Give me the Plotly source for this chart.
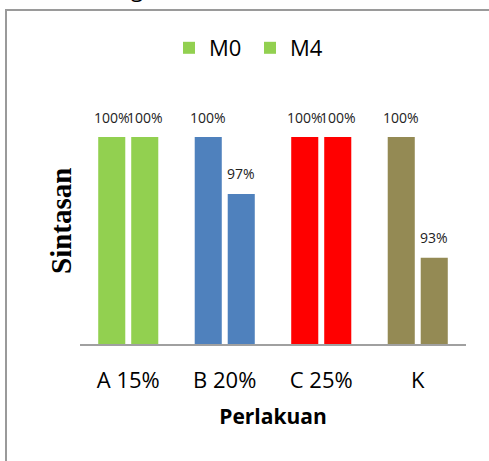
import plotly.graph_objects as go

categories = ["A 15%", "B 20%", "C 25%", "K"]
m0_values = [100, 100, 100, 100]
m4_values = [100, 96.7, 100, 93.0]
series_names = ["M0", "M4"]
bar_colors = ["#92D050", "#4F81BD", "#FF0000", "#948A54"]

W, H = 489, 461
L, R, T, B = 80, 466, 100, 344  # plot area pixels

fig = go.Figure()
for name, vals in zip(series_names, [m0_values, m4_values]):
    fig.add_trace(go.Bar(
        x=categories, y=vals, name=name,
        marker=dict(color=bar_colors, line=dict(width=0)),
        hoverinfo="skip",
    ))

annotations = []
for i, vals in enumerate([m0_values, m4_values]):
    shift = -16.5 if i == 0 else 16.5
    for c, v in zip(categories, vals):
        annotations.append(dict(
            x=c, y=v, xref="x", yref="y", text=f"{v:.0f}%",
            showarrow=False, xshift=shift, yshift=20, yanchor="middle",
            font=dict(family="Open Sans", size=14, color="#222"),
        ))

pw, ph = R - L, B - T
def px(x): return (x - L) / pw
def py(y): return (B - y) / ph

annotations.append(dict(
    x=px(61), y=py(221), xref="paper", yref="paper", text="<b>Sintasan</b>",
    textangle=-90, showarrow=False, xanchor="center", yanchor="middle",
    font=dict(family="Liberation Serif", size=29, color="#000"),
))
annotations.append(dict(
    x=px(137), y=py(-12), xref="paper", yref="paper", text="g",
    showarrow=False, xanchor="center", yanchor="middle",
    font=dict(family="Open Sans", size=22, color="#000"),
))

shapes = [
    dict(type="line", xref="paper", yref="paper", x0=px(6), x1=px(6), y0=py(10), y1=py(470),
         line=dict(color="#9a9a9a", width=2)),
    dict(type="line", xref="paper", yref="paper", x0=px(5), x1=px(500), y0=py(10), y1=py(10),
         line=dict(color="#9a9a9a", width=2)),
]

fig.update_layout(
    width=W, height=H,
    margin=dict(l=L, r=W - R, t=T, b=H - B, pad=0),
    paper_bgcolor="white", plot_bgcolor="white",
    barmode="group", bargap=0.316, bargroupgap=0.18,
    showlegend=True,
    legend=dict(orientation="h", x=px(250), y=py(48), xanchor="center", yanchor="middle",
                font=dict(family="Open Sans", size=22, color="#000"),
                entrywidth=36, entrywidthmode="pixels", itemclick=False),
    xaxis=dict(showline=True, linecolor="#a0a0a0", linewidth=2, ticks="",
               showgrid=False, ticklabelstandoff=16,
               tickfont=dict(family="Open Sans", size=22, color="#000"),
               title=dict(text="<b>Perlakuan</b>", standoff=16,
                          font=dict(family="Open Sans", size=21, color="#000"))),
    yaxis=dict(range=[88, 88 + ph / 17.25], visible=False, showgrid=False),
    annotations=annotations,
    shapes=shapes,
)

fig.write_html("out.html")
